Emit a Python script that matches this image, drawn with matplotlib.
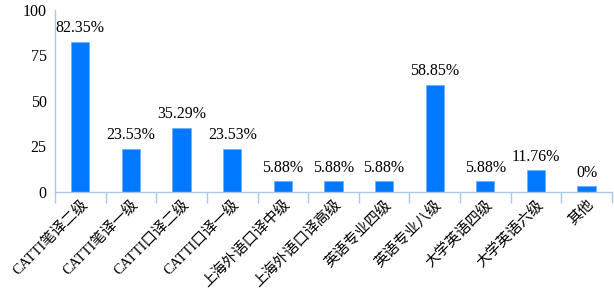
import matplotlib
matplotlib.use("Agg")
import matplotlib.pyplot as plt
import numpy as np

categories = ["CATTI笔译二级", "CATTI笔译一级", "CATTI口译二级", "CATTI口译一级",
              "上海外语口译中级", "上海外语口译高级", "英语专业四级", "英语专业八级",
              "大学英语四级", "大学英语六级", "其他"]
# bar heights as drawn (the "其他" bar is drawn with a small stub)
heights = [82.35, 23.53, 35.29, 23.53, 5.88, 5.88, 5.88, 58.85, 5.88, 11.76, 3.0]
value_labels = ["82.35%", "23.53%", "35.29%", "23.53%", "5.88%", "5.88%", "5.88%",
                "58.85%", "5.88%", "11.76%", "0%"]
yticks = [0, 25, 50, 75, 100]

plt.rcParams['font.family'] = ['Liberation Serif', 'Noto Sans CJK SC']

bar_color = '#0078FF'
axis_color = '#A9C8EC'

fig = plt.figure(figsize=(6.14, 2.91), dpi=100)
ax = fig.add_axes([0.0896, 0.341, 0.907, 0.625])

x = np.arange(len(categories))
ax.bar(x, heights, width=0.36, color=bar_color, edgecolor='#6FB0FF', linewidth=0.6)

for xi, h, lab in zip(x, heights, value_labels):
    ax.annotate(lab, (xi, h), xytext=(0, 4), textcoords='offset points',
                ha='center', va='bottom', fontsize=11.5)

ax.set_xlim(-0.5, len(categories) - 0.5)
ax.set_ylim(0, 100)
ax.set_yticks(yticks)
ax.tick_params(axis='y', length=0, pad=6, labelsize=11.5)

ax.set_xticks(x)
ax.set_xticklabels(categories, rotation=45, ha='right', va='top',
                   rotation_mode='anchor', fontsize=10.5)
ax.tick_params(axis='x', which='major', length=0, pad=4)
ax.set_xticks(np.arange(len(categories) + 1) - 0.5, minor=True)
ax.tick_params(axis='x', which='minor', length=8, color=axis_color, width=1)

for s in ['top', 'right']:
    ax.spines[s].set_visible(False)
for s in ['left', 'bottom']:
    ax.spines[s].set_color(axis_color)
    ax.spines[s].set_linewidth(1)

fig.savefig('out.png', dpi=100)
